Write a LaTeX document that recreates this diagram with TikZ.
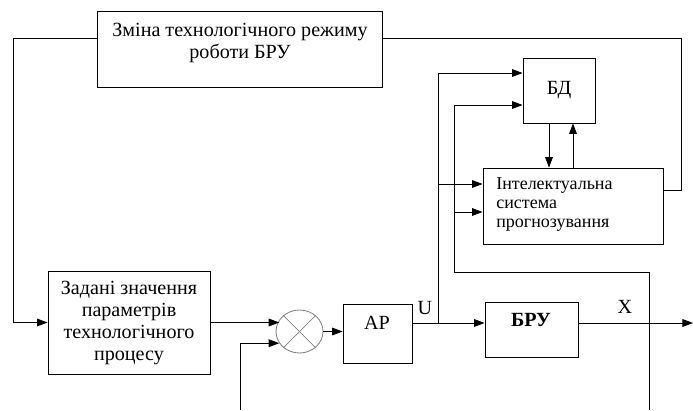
\documentclass[tikz,border=0pt]{standalone}
\usepackage{fontspec}
\setmainfont{Liberation Serif}
\newfontfamily\timesfont{Liberation Serif}
\usetikzlibrary{arrows.meta,shapes.geometric}

\tikzset{
  blk/.style={draw, line width=0.6pt, inner sep=0pt},
  ln/.style={line width=0.6pt},
  arr/.style={ln, -{Triangle[length=7.5pt,width=5.5pt]}},
  txt/.style={align=center, inner sep=0pt, font=\timesfont\fontsize{14.3}{15.5}\selectfont},
  smalltxt/.style={align=left, inner sep=0pt, font=\timesfont\fontsize{12.8}{13.5}\selectfont},
}

\begin{document}
\begin{tikzpicture}[x=0.025cm,y=-0.025cm]
\useasboundingbox (0,0) rectangle (693,410);

% blocks
\node[blk, minimum width=7.125cm, minimum height=1.9cm] (mode) at (239.5,49) {};
\node[txt] (modeText) at (240,43) {Зміна технологічного режиму\\роботи БРУ};

\node[blk, txt, minimum width=1.8cm, minimum height=1.625cm] (bd) at (559,90.5) {БД};

\node[blk, minimum width=4.5cm, minimum height=1.9cm] (isp) at (573,206) {};
\node[smalltxt, anchor=west] (ispText) at (496,205) {Інтелектуальна\\система\\прогнозування};

\node[blk, minimum width=4.05cm, minimum height=2.575cm] (zad) at (129,322.5) {};
\node[txt] (zadText) at (129,323) {Задані значення\\параметрів\\технологічного\\процесу};

\node[draw=gray, line width=0.6pt, ellipse, minimum width=1.175cm, minimum height=1.075cm, inner sep=0pt] (sum) at (299.5,331.5) {};
\draw[gray, line width=0.5pt] (sum.45) -- (sum.225);
\draw[gray, line width=0.5pt] (sum.135) -- (sum.315);

\node[blk, minimum width=1.725cm, minimum height=1.475cm] (ar) at (377.5,333.5) {};
\node[txt] (arText) at (377,323) {АР};

\node[blk, minimum width=2.325cm, minimum height=1.375cm] (bru) at (531.5,329.5) {};
\node[txt, font=\timesfont\fontsize{14.3}{15.5}\selectfont\bfseries] (bruText) at (531,320) {БРУ};

\node[txt] (uLbl) at (425,308) {U};
\node[txt] (xLbl) at (625,307) {X};

% bus points
\coordinate (leftBus) at (13,38);
\coordinate (rightBus) at (681,38);
\coordinate (ispOut) at (663,190);
\coordinate (fbIn) at (240,410);
\coordinate (uSplit) at (438,323);
\coordinate (uTop) at (438,73);
\coordinate (uIsp) at (438,184);
\coordinate (xTap) at (649,410);
\coordinate (fbCorner) at (454,272);
\coordinate (fbTop) at (454,105);
\coordinate (fbIsp) at (454,212);
\coordinate (xOut) at (693,323);
\coordinate (bdDn) at ([xshift=-0.25cm]bd.south);
\coordinate (bdUp) at ([xshift=0.35cm]bd.south);

% connections
\draw[arr] (mode.west |- leftBus) -- (leftBus) |- (zad.west);
\draw[ln] (mode.east |- rightBus) -- (rightBus) |- (ispOut);
\draw[arr] (zad.east) -- (zad.east -| sum.150);
\draw[arr] (fbIn) |- (sum.210);
\draw[arr] (sum.east) -- (ar.west |- sum.east);
\draw[arr] (ar.east |- uSplit) -- (bru.west |- uSplit);
\draw[arr] (uSplit) -- (uTop) -- (uTop -| bd.west);
\draw[arr] (uIsp) -- (uIsp -| isp.west);
\draw[arr] (xTap) |- (fbCorner) -- (fbTop) -- (fbTop -| bd.west);
\draw[arr] (fbIsp) -- (fbIsp -| isp.west);
\draw[arr] (bdDn) -- (bdDn |- isp.north);
\draw[arr] (bdUp |- isp.north) -- (bdUp);
\draw[arr] (bru.east |- xOut) -- (xOut);
\end{tikzpicture}
\end{document}
